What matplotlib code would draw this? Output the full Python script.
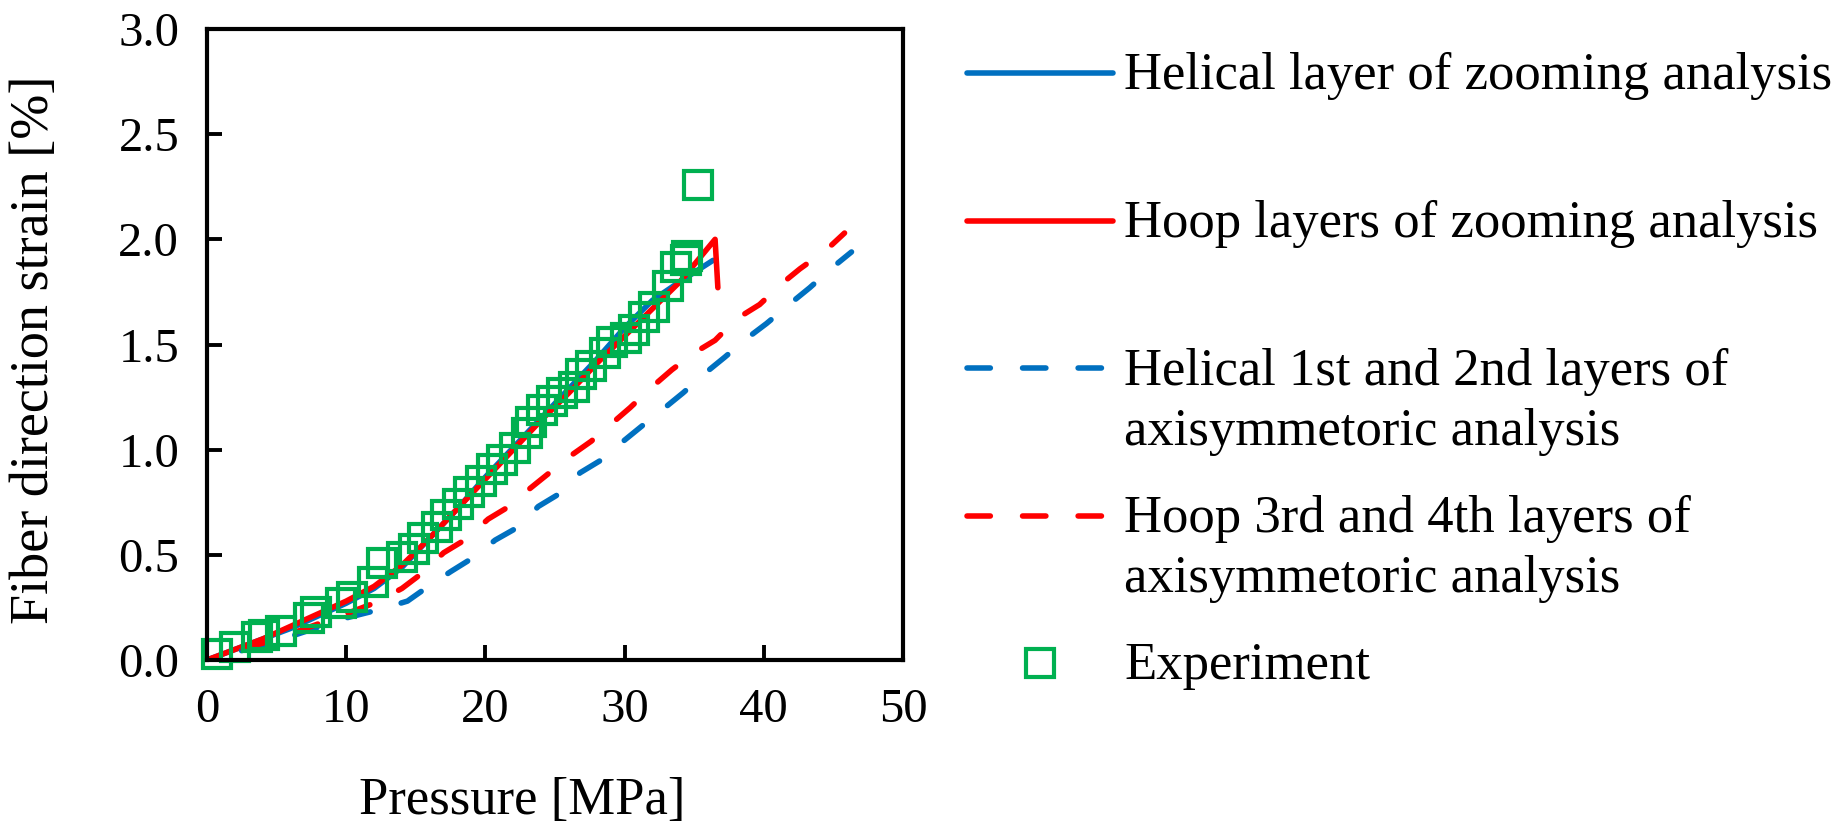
import matplotlib
matplotlib.use("Agg")
import numpy as np
import matplotlib.pyplot as plt
from matplotlib.lines import Line2D

plt.rcParams['font.family'] = ['Liberation Serif', 'DejaVu Serif']

# helical layer, zooming analysis (solid blue)
helical_zoom_p = [0, 2, 4, 6, 8, 10, 12, 14, 16, 18, 20, 22, 24, 26, 28, 30, 32, 34, 36.35]
helical_zoom_s = [0, 0.05, 0.10, 0.15, 0.21, 0.27, 0.34, 0.44, 0.58, 0.72, 0.87, 1.01, 1.15,
                  1.29, 1.43, 1.58, 1.71, 1.80, 1.90]

# hoop layers, zooming analysis (solid red)
hoop_zoom_p = [0, 2, 4, 6, 8, 10, 12, 14, 16, 18, 20, 22, 24, 26, 28, 30, 32, 34, 36.5, 36.7]
hoop_zoom_s = [0, 0.05, 0.10, 0.16, 0.22, 0.28, 0.35, 0.45, 0.58, 0.72, 0.86, 1.00, 1.14,
               1.27, 1.41, 1.54, 1.67, 1.80, 2.00, 1.77]

# helical 1st/2nd layers, axisymmetric analysis (dashed blue)
helical_axi_p = [0, 5, 10, 12.4, 14.4, 15.9, 17.5, 19.2, 20.7, 22.3, 23.8, 25.3, 26.8, 28.3,
                 29.9, 31.2, 32.9, 34.2, 35.9, 37.2, 38.8, 40.2, 42.0, 43.3, 45.0, 46.3]
helical_axi_s = [0, 0.09, 0.20, 0.24, 0.28, 0.35, 0.42, 0.49, 0.57, 0.63, 0.73, 0.79, 0.89, 0.95,
                 1.04, 1.11, 1.20, 1.27, 1.37, 1.44, 1.53, 1.60, 1.70, 1.77, 1.87, 1.94]

# hoop 3rd/4th layers, axisymmetric analysis (dashed red)
hoop_axi_p = [0, 5, 10, 12, 14, 15.4, 17, 18.5, 20.2, 21.7, 23.1, 24.6, 26.1, 27.6, 29, 30.4,
              32, 33.4, 35, 36.5, 38, 39.7, 41.3, 42.6, 44.5, 45.8]
hoop_axi_s = [0, 0.10, 0.22, 0.27, 0.34, 0.41, 0.51, 0.57, 0.67, 0.73, 0.81, 0.89, 0.97, 1.04,
              1.12, 1.20, 1.30, 1.38, 1.46, 1.52, 1.62, 1.69, 1.79, 1.86, 1.95, 2.03]

# experiment
exp_p = [0.7, 2.0, 3.6, 4.1, 5.3, 7.3, 7.8, 9.6, 10.4, 11.9, 12.6, 14.0, 14.9, 15.5, 16.5, 17.2,
         18.0, 18.8, 19.7, 20.5, 21.2, 22.1, 23.0, 23.3, 24.1, 24.8, 25.5, 26.4, 26.9, 27.6,
         28.6, 29.1, 30.1, 30.7, 31.4, 32.1, 33.1, 33.7, 34.4, 34.5, 35.3]
exp_s = [0.03, 0.06, 0.11, 0.12, 0.14, 0.20, 0.23, 0.27, 0.30, 0.37, 0.46, 0.49, 0.53, 0.58,
         0.63, 0.69, 0.74, 0.80, 0.85, 0.91, 0.95, 1.01, 1.08, 1.13, 1.19, 1.23, 1.27, 1.30,
         1.36, 1.40, 1.46, 1.51, 1.53, 1.57, 1.63, 1.68, 1.78, 1.87, 1.90, 1.92, 2.26]

labels = ["Helical layer of zooming analysis",
          "Hoop layers of zooming analysis",
          "Helical 1st and 2nd layers of\naxisymmetoric analysis",
          "Hoop 3rd and 4th layers of\naxisymmetoric analysis",
          "Experiment"]

x_ticks = [0, 10, 20, 30, 40, 50]
y_ticks = [0.0, 0.5, 1.0, 1.5, 2.0, 2.5, 3.0]

BLUE = "#0070C0"
RED = "#FF0000"
GREEN = "#00B050"
LW = 4
ON, OFF = 4.2, 5.8
W, H = 1839, 826

fig = plt.figure(figsize=(W / 100, H / 100), dpi=100)
ax = fig.add_axes([207 / W, 1 - 660 / H, 696 / W, 631 / H])
ax.set_xlim(0, 50)
ax.set_ylim(0, 3)


def dash_offset(xs, ys):
    # shift the dash pattern so the curve ends inside a dash
    pts = ax.transData.transform(np.column_stack([xs, ys])) * 72 / fig.dpi
    length = np.sum(np.hypot(*np.diff(pts, axis=0).T))
    period = (ON + OFF) * LW
    return ((0.75 * ON * LW - length) % period) / LW


ax.plot(helical_zoom_p, helical_zoom_s, color=BLUE, lw=LW, solid_capstyle="round")
ax.plot(hoop_zoom_p, hoop_zoom_s, color=RED, lw=LW, solid_capstyle="round")
ax.plot(helical_axi_p, helical_axi_s, color=BLUE, lw=LW, dash_capstyle="round",
        ls=(dash_offset(helical_axi_p, helical_axi_s), (ON, OFF)))
ax.plot(hoop_axi_p, hoop_axi_s, color=RED, lw=LW, dash_capstyle="round",
        ls=(dash_offset(hoop_axi_p, hoop_axi_s), (ON, OFF)))
ax.plot(exp_p, exp_s, ls="none", marker="s", ms=20, mfc="none", mec=GREEN, mew=3,
        clip_on=False)

ax.set_xticks(x_ticks)
ax.set_xticklabels([str(v) for v in x_ticks])
ax.set_yticks(y_ticks)
ax.set_yticklabels([f"{v:.1f}" for v in y_ticks])
ax.tick_params(direction="in", length=11, width=2.8, labelsize=35, pad=20, colors="#000000")
for s in ax.spines.values():
    s.set_linewidth(3)

fig.text(522 / W, 1 - 801 / H, "Pressure [MPa]", fontsize=38, ha="center", va="center")
fig.text(35 / W, 1 - 350 / H, "Fiber direction strain [%]", fontsize=39, ha="center",
         va="center", rotation=90)

# legend on the right, handle aligned with the first text line
styles = [dict(color=BLUE, lw=LW, solid_capstyle="round"),
          dict(color=RED, lw=LW, solid_capstyle="round"),
          dict(color=BLUE, lw=LW, ls=(0, (ON, OFF)), dash_capstyle="round"),
          dict(color=RED, lw=LW, ls=(0, (ON, OFF)), dash_capstyle="round"),
          dict(ls="none", marker="s", ms=20, mfc="none", mec=GREEN, mew=3)]
for i, (lab, st) in enumerate(zip(labels, styles)):
    yrow = 73 + i * 147.5
    if st.get("marker"):
        fig.add_artist(Line2D([1040 / W], [1 - yrow / H], **st))
    else:
        fig.add_artist(Line2D([967 / W, 1113 / W], [1 - yrow / H, 1 - yrow / H], **st))
    for j, line in enumerate(lab.split("\n")):
        fig.text(1124 / W, 1 - (yrow + 16.5 + j * 60) / H, line, fontsize=38,
                 ha="left", va="baseline")

fig.savefig("out.png", dpi=100)
